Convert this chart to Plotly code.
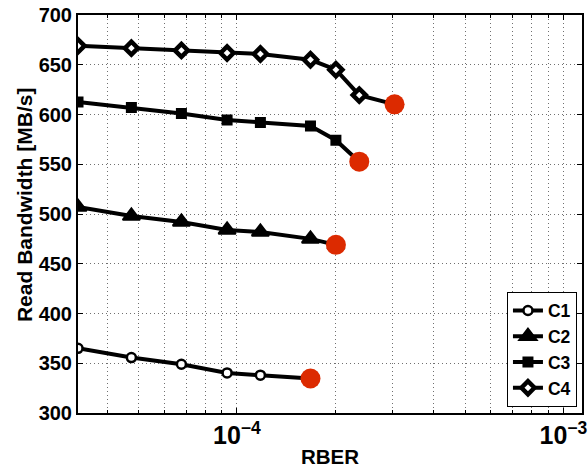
import plotly.graph_objects as go

# ---- data ----
rber = [3.26e-5, 4.75e-5, 6.76e-5, 9.33e-5, 1.18e-4, 1.68e-4, 2.01e-4, 2.37e-4, 3.04e-4]
series_names = ["C1", "C2", "C3", "C4"]
c1 = [365, 355.7, 349, 340.3, 338, 334.7]
c2 = [507, 498, 492, 484, 482, 475, 469]
c3 = [612.5, 607, 601, 594.5, 592, 588.5, 574.2, 552.6]
c4 = [669, 666.7, 664.4, 661.8, 660.8, 655, 645, 619.5, 610.2]
y_ticks = [300, 350, 400, 450, 500, 550, 600, 650, 700]

values = [c1, c2, c3, c4]
symbols = ["circle", "triangle-up", "square", "diamond"]
msizes = [9, 15, 9, 10]
mfill = ["white", "black", "black", "white"]
mlw = [2.5, 2, 2, 4.5]

FONT = "Liberation Sans, Arial, Helvetica, sans-serif"
RED = "#DC2A00"
GRID = "#707070"
DOT = "1px,3px"

fig = go.Figure()
for name, vals, sym, ms, fc, lw in zip(series_names, values, symbols, msizes, mfill, mlw):
    fig.add_trace(go.Scatter(
        x=rber[:len(vals)], y=vals, name=name, mode="lines+markers",
        line=dict(color="black", width=4),
        marker=dict(symbol=sym, size=ms, color=fc, line=dict(color="black", width=lw)),
    ))

# red dots on the last point of each series
fig.add_trace(go.Scatter(
    x=[rber[len(v) - 1] for v in values], y=[v[-1] for v in values],
    mode="markers", marker=dict(color=RED, size=20), showlegend=False,
))

axis_common = dict(
    showline=True, linecolor="black", linewidth=2, mirror="ticks",
    ticks="inside", ticklen=5, tickcolor="black", tickwidth=1,
    showgrid=True, gridcolor=GRID, gridwidth=1, griddash=DOT,
    zeroline=False, ticklabeloverflow="allow",
    tickfont=dict(family=FONT, size=20, color="black", weight="bold"),
)

fig.update_xaxes(
    type="log", range=[-4.4868, -2.943], dtick=1, exponentformat="power",
    minor=dict(dtick="D1", ticks="inside", ticklen=3, tickcolor="black",
               showgrid=True, gridcolor=GRID, gridwidth=1, griddash=DOT),
    title=dict(text="RBER", font=dict(family=FONT, size=20.5, color="black", weight="bold"), standoff=4),
    **axis_common,
)
fig.update_yaxes(range=[300, 700], tickvals=y_ticks, **axis_common)

fig.add_annotation(
    text="Read Bandwidth [MB/s]", textangle=-90,
    xref="paper", yref="paper", x=-0.1061, y=0.5238,
    xanchor="center", yanchor="middle", showarrow=False,
    font=dict(family=FONT, size=21, color="black", weight="bold"),
)

fig.update_layout(
    width=588, height=468,
    margin=dict(l=78, r=1, t=15, b=52),
    paper_bgcolor="white", plot_bgcolor="white",
    font=dict(family=FONT, color="black"),
    legend=dict(
        x=0.99, y=0.016, xanchor="right", yanchor="bottom",
        bgcolor="white", bordercolor="black", borderwidth=1,
        font=dict(family=FONT, size=17.5, color="black", weight="bold"),
        tracegroupgap=0, itemwidth=30,
    ),
    showlegend=True,
)

fig.write_html(
    "out.html",
    config={"displayModeBar": False},
    post_script="document.body.style.margin='0';document.body.style.padding='0';",
)
